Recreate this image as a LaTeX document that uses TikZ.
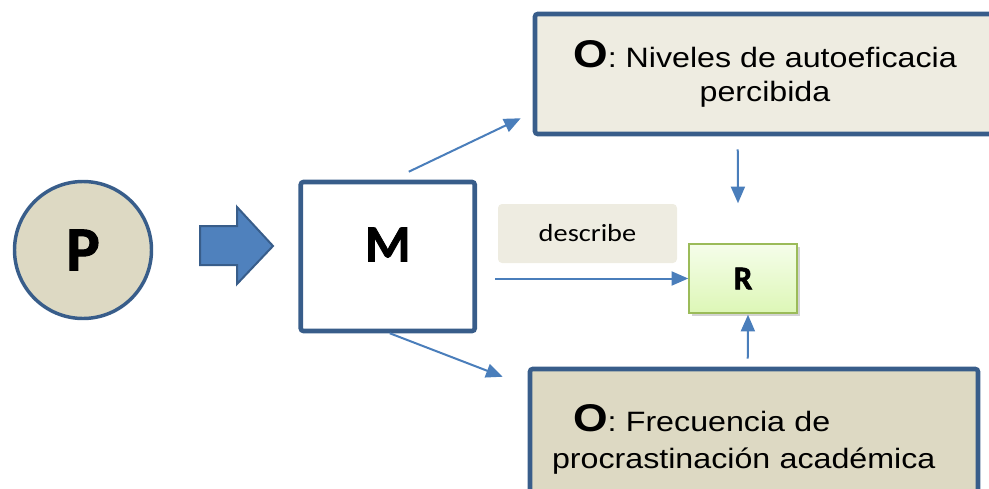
\documentclass[tikz,border=0pt]{standalone}
\usepackage{fontspec}
\setmainfont{Liberation Sans}[FakeStretch=1.15]
\newfontfamily\calibfont{Carlito}[FakeStretch=1.15]
\newfontfamily\calibboldfont{Carlito Bold}[FakeBold=1.6]
\usetikzlibrary{arrows.meta,calc,shadows}

\definecolor{boxblue}{RGB}{56,93,138}
\definecolor{arrowblue}{RGB}{79,129,189}
\definecolor{lineblue}{RGB}{74,126,187}
\definecolor{tanfill}{RGB}{221,217,195}
\definecolor{paperfill}{RGB}{238,236,225}
\definecolor{rgreen}{RGB}{155,187,89}
\definecolor{rtop}{RGB}{245,253,234}
\definecolor{rbottom}{RGB}{221,247,182}

\tikzset{every picture/.style={line width=0.75pt}}
\tikzset{
  conn/.style={draw=lineblue, line width=1.5pt, -{Triangle[length=12.5pt,width=10.5pt]}},
  obox/.style={draw=boxblue, line width=3.4pt, rounded corners=2pt, inner sep=0pt}
}
\newcommand{\bigO}{{\fontsize{29pt}{30pt}\selectfont\bfseries O}}

\begin{document}
\begin{tikzpicture}[x=0.75pt,y=0.75pt,yscale=-1,xscale=1]
\useasboundingbox (0,0) rectangle (989,489);
\clip (0,0) rectangle (989,489);

% P circle
\node (P) [circle, draw=boxblue, line width=2.6pt, fill=tanfill, minimum size=102.75pt, inner sep=0pt,
  font=\calibboldfont\fontsize{47pt}{47pt}\selectfont] at (83,250) {P};

% block arrow
\draw [draw=boxblue, fill=arrowblue, line width=1.5pt, line join=miter]
  (200,226) -- (237,226) -- (237,207) -- (273,246) -- (237,284) -- (237,265) -- (200,265) -- cycle;

% M box
\node (M) [obox, fill=white, minimum width=130.5pt, minimum height=111.75pt, text depth=18pt,
  font=\calibboldfont\fontsize{39pt}{39pt}\selectfont] at (387.75,256.5) {M};

% top O box
\node (O1) [obox, fill=paperfill, minimum width=345pt, minimum height=90pt, align=center,
  font=\fontsize{21pt}{25.5pt}\selectfont] at (765,74) {\bigO: Niveles de autoeficacia\\percibida};

% bottom O box
\node (O2) [obox, fill=tanfill, minimum width=336pt, minimum height=105pt, text width=303pt,
  inner xsep=16.5pt, align=left,
  font=\fontsize{21pt}{27.75pt}\selectfont] at (754,439) {\hspace*{15.75pt}\bigO: Frecuencia de\\procrastinación académica};

% describe label
\node (desc) [fill=paperfill, rounded corners=3pt, minimum width=134.25pt, minimum height=44.25pt,
  inner sep=0pt, font=\calibfont\fontsize{18.5pt}{20pt}\selectfont] at (587.5,233.5) {describe};

% R box
\node (R) [draw=rgreen, line width=1.1pt, top color=rtop, bottom color=rbottom,
  minimum width=81pt, minimum height=51.75pt, inner sep=0pt,
  drop shadow={opacity=0.35, shadow xshift=2pt, shadow yshift=-2pt},
  font=\calibboldfont\fontsize{25pt}{25pt}\selectfont] at (743,278.5) {R};

% connectors
\draw [conn] ($(M.north)+(21,-8)$) -- ($(O1.south west)+(-12,-18)$);
\draw [conn] ($(M.south)+(2,0)$) -- ($(O2.north west)+(-25,10)$);
\draw [conn, shorten <=13.5pt] (M.east |- R.west) -- (R.west);
\draw [conn] ($(O1.south west)+(205,13)$) -- ($(R.north)+(-5,-40)$);
\draw [conn] ($(O2.north west)+(220,-8)$) -- ($(R.south)+(5,1)$);

\end{tikzpicture}
\end{document}
